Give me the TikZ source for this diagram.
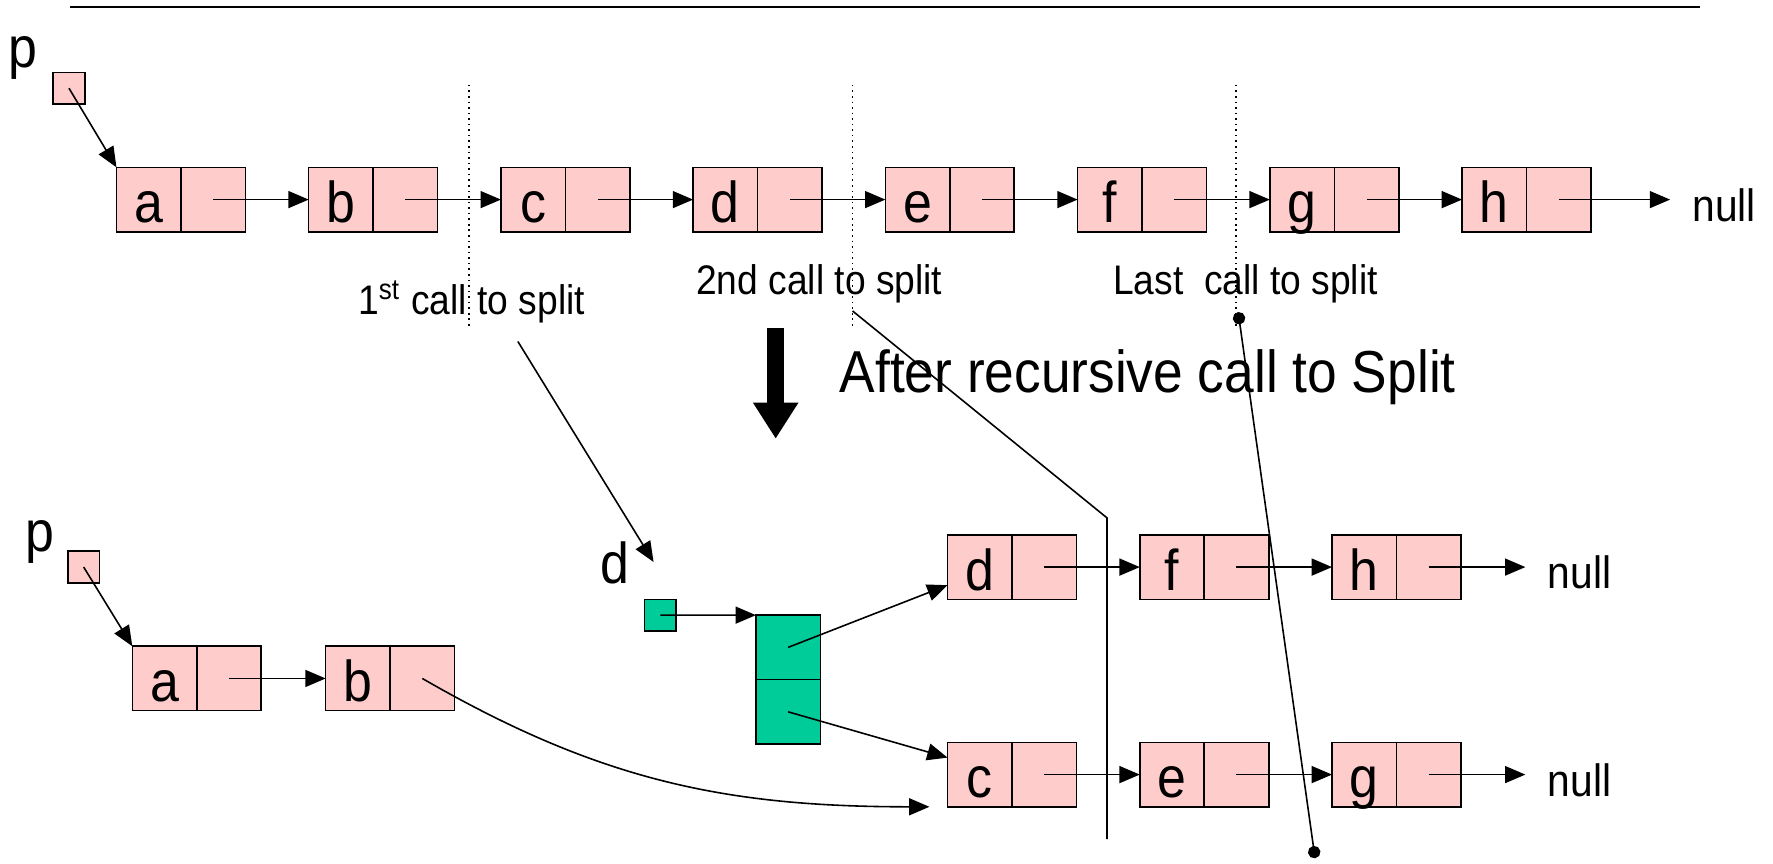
\documentclass[tikz,border=0pt]{standalone}
\usepackage{fontspec}
\setmainfont{Liberation Sans}[FakeStretch=0.9]
\usetikzlibrary{positioning,arrows.meta}
\definecolor{cellpink}{HTML}{FFCCCC}
\definecolor{cellgreen}{HTML}{00CC99}
\tikzset{%
  cell/.style={rectangle,draw,fill=cellpink,minimum size=5.7mm,inner sep=0pt,
    outer sep=0pt,text height=4.1mm,text depth=0mm,font=\fontsize{14.5}{17}\selectfont},
  gcell/.style={cell,fill=cellgreen},
  head/.style={rectangle,draw,fill=cellpink,minimum size=2.8mm,inner sep=0pt},
  ghead/.style={head,fill=cellgreen},
  letter/.style={inner sep=0pt,font=\fontsize{14.5}{17}\selectfont},
  note/.style={inner sep=0pt,font=\fontsize{10.4}{12}\selectfont},
  nil/.style={inner xsep=1.9mm,inner ysep=0pt,yshift=-0.5mm,font=\fontsize{11.4}{13}\selectfont},
  pre/.style={{Triangle[length=1.8mm,width=1.5mm]}-},
  post/.style={-{Triangle[length=1.8mm,width=1.5mm]}}
}
\begin{document}
\begin{tikzpicture}[node distance=5.6mm]
  \useasboundingbox (0,0) rectangle (15.68,-7.64);
  \draw (0.62,-0.06) -- (15.03,-0.06);

  % the list before split
  \node [letter] (plab) at (0.20,-0.515) {p};
  \node [head] (p) at (0.61,-0.78) {};
  \node [cell] (a) at (1.315,-1.765) {a};
  \node [cell] (aptr) [right=0pt of a] {};
  \node [cell] (b) [right=of aptr] {b} edge [pre] (aptr.center);
  \node [cell] (bptr) [right=0pt of b] {};
  \node [cell] (c) [right=of bptr] {c} edge [pre] (bptr.center);
  \node [cell] (cptr) [right=0pt of c] {};
  \node [cell] (d) [right=of cptr] {d} edge [pre] (cptr.center);
  \node [cell] (dptr) [right=0pt of d] {};
  \node [cell] (e) [right=of dptr] {e} edge [pre] (dptr.center);
  \node [cell] (eptr) [right=0pt of e] {};
  \node [cell] (f) [right=of eptr] {f} edge [pre] (eptr.center);
  \node [cell] (fptr) [right=0pt of f] {};
  \node [cell] (g) [right=of fptr] {g} edge [pre] (fptr.center);
  \node [cell] (gptr) [right=0pt of g] {};
  \node [cell] (h) [right=of gptr] {h} edge [pre] (gptr.center);
  \node [cell] (hptr) [right=0pt of h] {};
  \node [nil] (nil1) [right=7mm of hptr] {null};
  \draw [post] (p.center) -- (a.north west);
  \draw [post] (hptr.center) -- (hptr.center -| nil1.west);

  % where split is called
  \draw [densely dotted] (4.15,-0.75) -- (4.15,-2.90);
  \draw [densely dotted] (7.54,-0.75) -- (7.54,-2.90);
  \draw [densely dotted] (10.93,-0.75) -- (10.93,-2.90);
  \node [note] (call1) at (4.17,-2.67) {1\textsuperscript{st} call to split};
  \node [note] (call2) at (7.245,-2.51) {2nd call to split};
  \node [note] (calln) at (11.015,-2.51) {Last\ \ call to split};

  \draw [line width=1.5mm,-{Triangle[length=3.2mm,width=3.8mm]}] (6.86,-2.90) -- (6.86,-3.88);
  \node [inner sep=0pt,font=\fontsize{14.9}{18}\selectfont] (after) at (10.15,-3.34) {After recursive call to Split};

  % the lists after split
  \node [letter] (qlab) at (0.355,-4.79) {p};
  \node [head] (q) at (0.74,-5.015) {};
  \node [cell] (a2) at (1.455,-6.00) {a};
  \node [cell] (a2ptr) [right=0pt of a2] {};
  \node [cell] (b2) [right=5.7mm of a2ptr] {b} edge [pre] (a2ptr.center);
  \node [cell] (b2ptr) [right=0pt of b2] {};
  \draw [post] (q.center) -- (a2.north west);

  \node [letter] (dlab) at (5.435,-4.98) {d};
  \node [ghead] (dp) at (5.84,-5.44) {};
  \node [gcell] (top) at (6.97,-5.725) {};
  \node [gcell] (bot) [below=0pt of top] {};
  \draw [post] (dp.center) -- (top.north west);

  \node [cell] (d2) at (8.665,-5.015) {d};
  \node [cell] (d2ptr) [right=0pt of d2] {};
  \node [cell] (f2) [right=of d2ptr] {f} edge [pre] (d2ptr.center);
  \node [cell] (f2ptr) [right=0pt of f2] {};
  \node [cell] (h2) [right=of f2ptr] {h} edge [pre] (f2ptr.center);
  \node [cell] (h2ptr) [right=0pt of h2] {};
  \node [nil] (nil2) [right=5.7mm of h2ptr] {null};
  \draw [post] (h2ptr.center) -- (h2ptr.center -| nil2.west);

  \node [cell] (c2) at (8.665,-6.85) {c};
  \node [cell] (c2ptr) [right=0pt of c2] {};
  \node [cell] (e2) [right=of c2ptr] {e} edge [pre] (c2ptr.center);
  \node [cell] (e2ptr) [right=0pt of e2] {};
  \node [cell] (g2) [right=of e2ptr] {g} edge [pre] (e2ptr.center);
  \node [cell] (g2ptr) [right=0pt of g2] {};
  \node [nil] (nil3) [right=5.7mm of g2ptr] {null};
  \draw [post] (g2ptr.center) -- (g2ptr.center -| nil3.west);

  \draw [post] (top.center) -- ([yshift=-1.6mm]d2.west);
  \draw [post] (bot.center) -- ([yshift=1.5mm]c2.west);
  \draw [post] (b2ptr.center) to [out=-30,in=180] ([xshift=-1.6mm]c2.south west);

  % markers
  \coordinate (from1) at (4.58,-3.02);
  \coordinate (dtip) at (5.78,-4.97);
  \draw [post] (from1) -- (dtip);
  \coordinate (cut1) at (7.54,-2.75);
  \coordinate (bend1) at (9.79,-4.58);
  \coordinate (cut1end) at (9.79,-7.42);
  \draw (cut1) -- (bend1) -- (cut1end);
  \coordinate (cut2) at (10.95,-2.76);
  \coordinate (cut2end) at (11.63,-7.59);
  \draw [{Circle[length=1.1mm]}-{Circle[length=1.1mm]}] (cut2) -- (cut2end);
\end{tikzpicture}
\end{document}
